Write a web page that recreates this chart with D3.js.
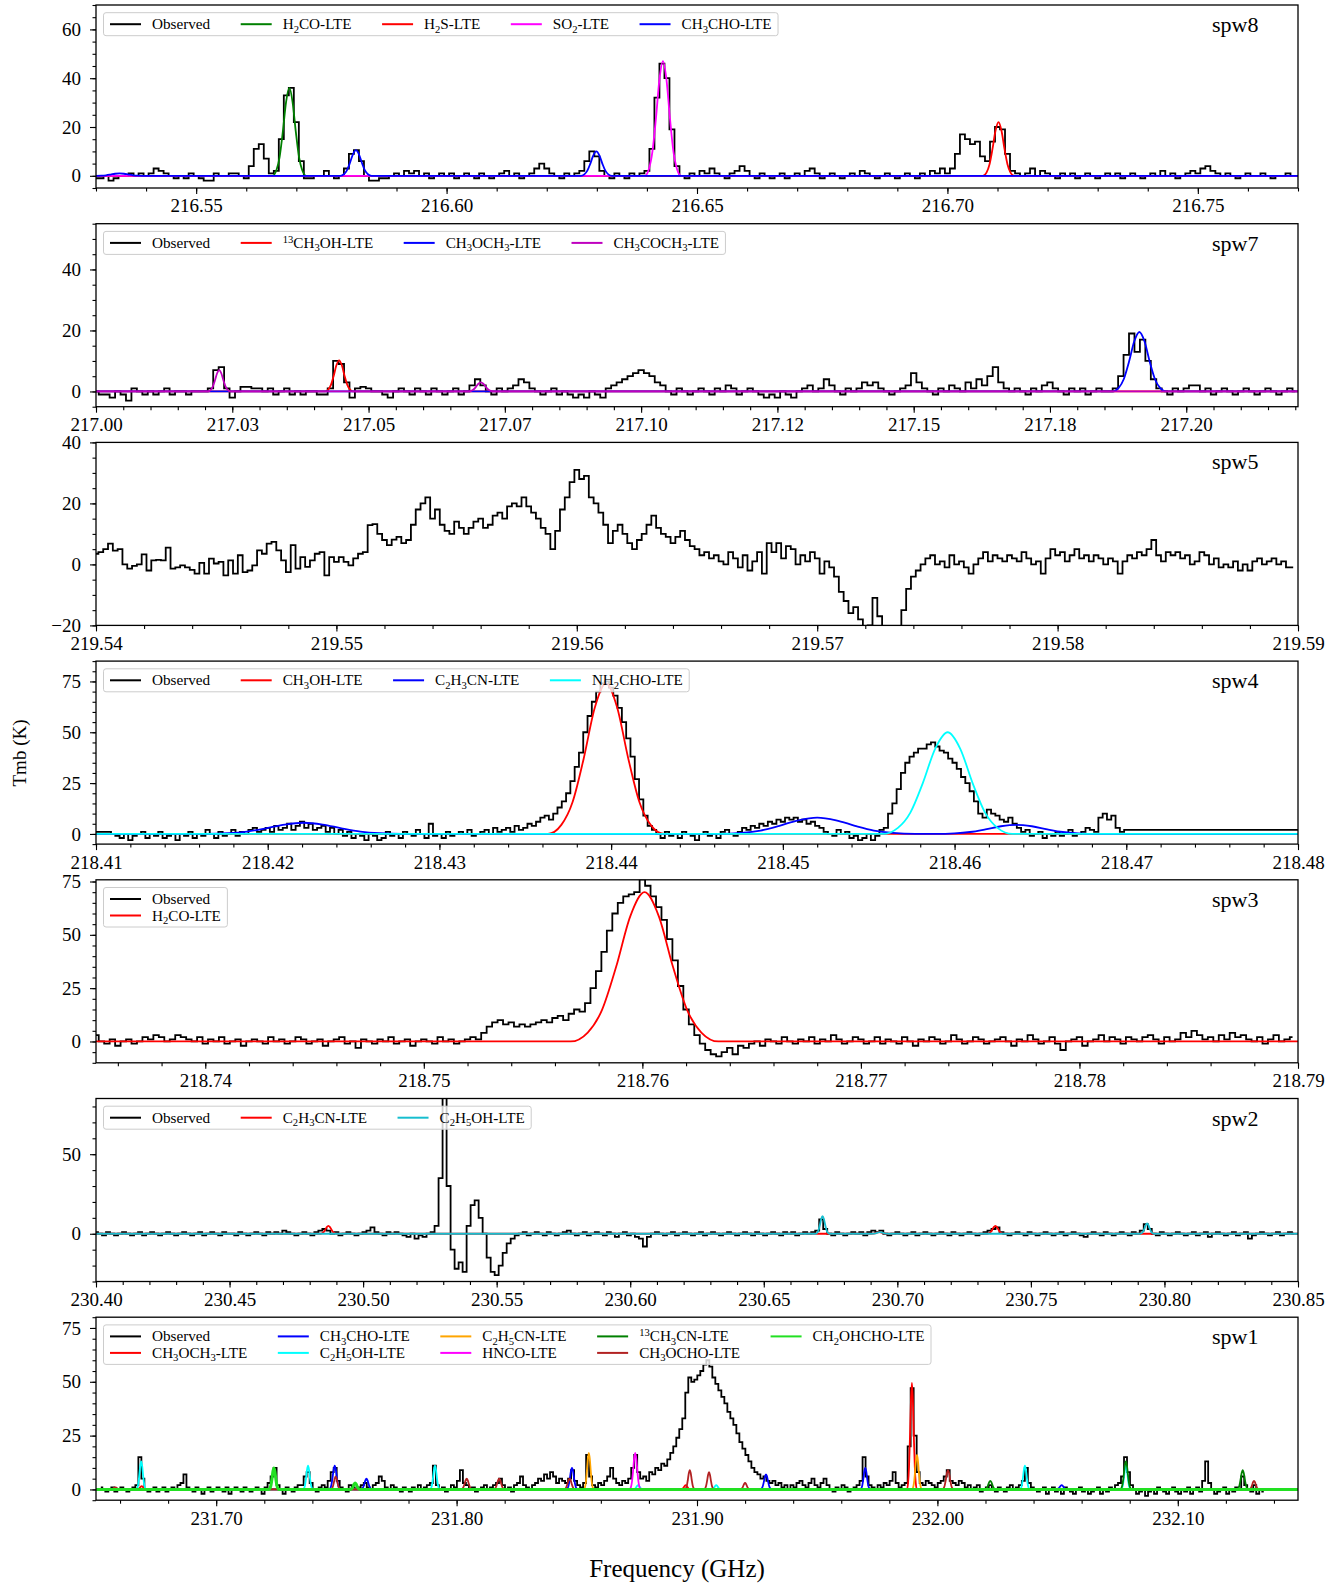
<!DOCTYPE html>
<html><head><meta charset="utf-8">
<script src="https://cdn.jsdelivr.net/npm/d3@7"></script>
<style>
body{margin:0;background:#fff}
svg text{font-family:"Liberation Serif","Times New Roman",serif;fill:#000}
</style></head>
<body><svg id="c" width="1336" height="1585"></svg>
<script>
// ===================== DATA =====================
// Observed spectra: start frequency (GHz), channel width (GHz), Tmb values (K)
const spw8Obs = {f0:216.53, df:0.001, T:[
-1,-1,0,-2,-1,0,0,1,0,1, 0,1,3,2,1,0,-1,0,-1,1, 0,-1,-2,-2,1,0,0,1,1,0,
-1,4,11,13,7,1,2,15,33,36, 22,6,-1,-1,0,0,2,0,-1,0, 3,9,10.5,6,0,-2,-2,-1,-1,0,
1,0,2,1,2,0,1,-1,0,1, 0,1,-1,0,1,0,-1,1,0,-1, 0,1,2,0,1,-1,0,1,3,5,
3,1,0,-1,1,0,1,2,6,10, 8,2,0,-1,1,0,-1,1,0,1, 2,11,32,46,40,19,4,0,-1,1,
0,2,1,3,1,0,-1,1,2,4, 2,0,-1,1,0,-1,0,1,-1,0, 1,0,2,3,1,-1,0,1,0,-1,
0,1,0,2,1,0,-1,0,1,0, -1,0,1,0,-1,1,0,2,1,3, 1,3,9,17,15,13,14,8,6,14,
20,19,9,2,1,0,1,3,0,2, 1,0,-1,1,0,1,-1,0,1,0, -1,0,1,0,1,-1,0,1,0,-1,
0,1,0,2,0,1,-1,0,1,2, 1,3,4,2,1,0,1,0,-1,0, 1,0,0,1,0,-1,0,0,1,0]};

const spw7Obs = {f0:217.0, df:0.001, T:[
0,-1,-1,-2,0,-1,-3,1,0,-1, 0,-1,0,1,-1,0,0,-1,0,0, 0,1,7,8,1,-2,0,1.5,1.5,1,
1,0,1,-1,0,1,-1,0,-1,0, 0,-1,-1,1,10,9,3,-2,1,1.5, 1,0,0,-1,-2,0,1,0,-1,1,
0,-1,1,0,-1,0,1,-1,0,2, 4,2,0,-1,1,0,1,2,4,3, 1,0,-1,0,1,-1,0,-1,-2,-1,
-2,0,-1,-2,1,2,3,4,5,6, 7,6,5,3,2,0,-1,1,0,-1, 0,1,0,-1,1,0,2,1,-1,0,
1,0,-1,-2,-1,-2,0,-1,-2,0, 1,2,0,1,4,2,0,-1,1,0, 1,3,2,3,1,0,-1,0,1,2,
6,3,1,0,-1,1,0,2,1,0, 3,1,4,2,5,8,3,1,0,1, 0,-1,1,0,2,3,1,0,-1,1,
0,1,-1,0,1,0,0,1,5,12, 19,13,17,10,4,1,0,-1,1,0, 1,2,2,0,1,-1,0,1,0,-1,
0,1,0,-1,0,1,0,-1,0,1,0]};

const spw5Obs = {f0:219.54, df:0.0002, T:[
3.5,4,5,6.8,4.5,5,0,-1.4,-0.5,0, 3.3,-2,1.3,1.5,1.3,5.5,-1.4,-1,-0.3,-1,
-1.8,-3,0.5,-3,1.9,0.3,0.8,-3.6,1.3,-3, 3,-2.5,-2,-0.3,4.6,3.5,6.8,7.4,4.6,1.3,
-2.5,6.3,-1.4,2.4,-0.8,1.3,3.5,4,-3.6,2.4, 0.8,2.4,0.8,-0.3,2,3.5,4,12.9,13.2,10,
8,6.3,8.1,9,7,8,13,18,20,22, 15,18,13,11,10,14,12,10,12,14,
15,12,13,16,17,15,19,20,19,22, 19,17,15,12,10,5,11,18,22,27,
31,28,29,22,20,17,13,7,11,13, 10,7,5,8,10,13,16,12,10,9,
7,9,11,8,6,5,3,4,2,3, 1,0,4,2,-1,3,-2,1,4,-3,
7,4,7,2,6,5,0,3,1,4, 2,-3,1,-1,-4,-9,-12,-16,-14,-18,
-22,-20,-11,-17,-23,-24,-23,-22,-15,-8, -4,-2,0,2,3,0,1,-1,3,0,
1,-1,-3,0,2,4,1,3,2,1, 3,2,1,4,2,0,1,-3,2,5,
3,4,1,3,5,2,3,1,3,2, 0,2,1,-3,1,3,2,4,3,5,
8,3,1,4,3,4,2,3,0,1, 4,3,0,2,-1,0,-1,1,-2,0,
-2,1,2,0,1,2,0,1,-1,-1]};

const spw4Obs = {f0:218.411, df:0.00025, T:[
0,-1,-2,0,-3,-1,0,1,-2,0, -1,1,-2,-1,0,-3,0,-1,1,-2, 0,-1,2,0,-2,1,-1,0,2,-1,
1,0,2,3,1,2,3,1,4,2, 3,5,2,4,6,3,5,2,3,4, 1,3,0,2,-1,1,-2,0,-1,-3,
0,-1,-3,-2,1,-1,0,-2,1,0, -1,2,0,-2,5,-1,0,-2,1,-1, 0,1,0,2,-1,0,1,2,0,3,
1,2,3,1,4,2,3,5,4,6, 8,9,7,10,13,16,20,26,33,40, 50,58,65,70,74,75,72,68,62,55,
47,38,27,17,9,4,2,0,-2,1, -1,0,-2,1,0,-1,-3,0,1,-1, 0,-2,1,2,0,-1,1,3,2,4,
3,5,4,6,5,7,6,8,7,8, 6,7,5,6,4,3,1,0,-1,2, 0,1,-2,-1,-3,-2,0,-3,-1,2,
3,10,15,22,30,35,38,40,42,42, 44,45,43,41,40,37,35,32,28,25, 21,16,10,8,12,10,9,7,6,8,
5,3,1,2,-1,0,1,-2,0,-1, 1,-1,0,2,-1,0,1,3,2,1, 8,10,7,9,3,1]};
// flat levels drawn by the observed trace outside the measured channels
const spw4ObsEdges = [1, 2];

const spw3Obs = {f0:218.735, df:0.00025, T:[
3,0,-1,1,-2,0,1,-1,0,2, 1,3,2,0,1,3,2,1,0,2, -1,1,0,2,-1,0,1,-2,0,1,
0,-1,2,0,1,-1,0,2,1,-1, 0,1,-2,0,1,2,-1,0,-3,1, 0,-1,1,0,2,-1,0,1,-2,0,
1,0,-1,2,0,1,-1,0,1,2, 1,4,7,9,10,8,9,7,8,7, 8,9,10,9,11,12,10,13,15,14,
18,25,33,42,52,60,65,68,69,70, 76,73,68,63,57,48,38,26,15,8, 3,-1,-4,-6,-7,-5,-3,-6,-2,-3,
-1,0,-2,1,0,-1,2,0,-1,1, 0,2,-1,1,0,3,1,-1,0,2, 1,-1,0,2,-1,1,0,-1,2,0,
-2,1,0,2,1,-1,0,3,1,-1, 0,2,1,-1,0,1,2,0,-2,1, 0,3,1,-1,0,2,-1,-4,0,1,
2,-2,0,1,3,0,2,1,-1,2, 1,0,2,3,1,-1,2,0,1,4, 2,5,3,1,2,0,3,1,4,2,
3,1,0,2,-1,1,3,0,1,2]};

const spw2Obs = {f0:230.40, df:0.0015, T:[
1,0,-1,1,0,-1,0,1,0,-1, 0,1,-1,0,1,0,-1,0,1,0, -1,0,1,0,-1,0,1,-1,0,1,
0,-1,1,0,0,-1,1,0,-1,0, 1,0,-1,1,0,1,0,2,1,0, -1,0,1,0,-1,1,2,3,2,0,
1,-1,0,1,0,-1,0,1,2,4, 1,0,-1,1,0,1,0,-1,-2,0, -3,-1,-2,0,1,5,35,90,30,-10,
-22,-18,-24,5,18,21,10,0,-15,-24, -26,-20,-12,-6,-3,-1,0,1,-1,0, 1,0,-1,1,0,-1,0,1,2,0,
-1,0,1,-1,0,1,0,-1,1,0, -2,0,1,-1,0,-2,-3,-8,-2,0, 1,0,-1,0,1,-1,0,1,0,-1,
0,1,-1,0,1,0,-1,0,1,0, -1,0,1,0,-1,1,0,-1,0,1, 0,-1,1,0,1,-1,0,1,0,1,
2,9,3,0,-1,1,0,-1,0,1, 0,1,-1,1,2,1,2,0,-1,0, 1,0,-1,0,1,-1,0,1,0,-1,
0,1,0,-1,1,0,-1,0,1,0, -1,0,1,2,3,4,1,0,-1,0, 1,0,-1,1,0,-1,0,1,0,-1,
0,1,-1,0,1,0,-1,-2,0,1, 0,-1,1,0,-1,0,1,0,-1,1, 0,2,6,3,0,-1,1,0,-1,0,
1,0,-1,0,1,-1,0,1,-2,0, 1,0,-1,0,1,-1,0,1,-3,-1, 0,1,0,-1,0,1,-1,0,1,0]};

const spw1Obs = {f0:231.652, df:0.00125, T:[
1,0,-1,0,1,-1,0,1,0,-1, 0,1,2,15,5,0,-1,0,1,-1, 0,1,-1,0,1,0,2,3,7,1,
0,-1,1,0,-2,0,1,-1,0,1, 0,-1,1,-2,0,1,0,-1,1,0, -1,0,1,0,-2,1,3,6,10,2,
0,-2,1,0,-1,1,2,2,6,8, 3,0,-1,1,2,1,4,8,10,4, 1,0,-1,2,1,0,1,2,3,1,
0,2,3,6,4,1,0,2,1,0, -1,1,0,-1,1,0,2,0,1,2, 3,11,2,0,1,-1,0,2,1,4,
9,3,2,0,1,-1,0,1,2,0, 1,2,3,5,2,0,1,-1,2,3, 6,2,1,0,2,3,5,4,7,5,
8,6,3,5,4,3,5,9,4,2, 1,3,16,6,2,1,3,2,4,6, 10,5,3,2,4,3,5,10,16,8,
5,6,4,8,7,10,9,12,11,14, 17,20,24,28,33,45,52,50,51,53, 55,58,60,57,52,49,46,43,40,36,
33,30,26,22,19,16,13,10,8,7, 5,6,4,3,4,2,3,1,2,0, 2,1,3,4,2,1,3,5,2,1,
3,5,2,0,-1,1,0,2,1,-1, 0,1,2,4,15,6,2,1,0,2, 1,3,2,4,8,3,1,2,3,20,
47,25,8,3,2,4,3,2,1,3, 4,6,9,4,3,2,4,3,1,2, 0,1,2,-1,0,1,2,0,-1,1,
0,-1,1,2,0,1,2,4,10,3, 1,0,-1,0,1,-2,0,1,-1,0, -2,1,0,-1,-2,0,1,-1,0,-2,
-1,0,1,-2,0,-1,1,0,2,3, 6,15,8,2,0,-2,-1,0,-3,-1, 0,-2,1,0,-1,-2,0,1,-1,-2,
0,-1,1,-2,0,1,-1,4,13,3, 0,-2,-1,0,1,-2,0,-1,1,0, 6,2,0,-1,2,-2,0,-1]};

// LTE model lines: [centre GHz, peak Tmb K, half-width at half max GHz]
const spw8H2CO   = [[216.5686,36,0.0013]];
const spw8H2S    = [[216.7102,22,0.0012]];
const spw8SO2    = [[216.6432,47,0.0014]];
const spw8CH3CHO = [[216.5347,1,0.0018],[216.5819,10.5,0.0012],[216.6299,10,0.0012]];

const spw7C13H3OH  = [[217.0446,10.2,0.001]];
const spw7CH3OCH3  = [[217.1914,19.5,0.0019]];
const spw7CH3COCH3 = [[217.0226,7,0.0008],[217.0706,3,0.0009]];

const spw4CH3OH  = [[218.4397,74,0.0013]];
const spw4C2H3CN = [[218.4221,5.5,0.0022],[218.452,8,0.0022],[218.4636,4.5,0.0018]];
const spw4NH2CHO = [[218.4596,50,0.00145]];

const spw3H2CO = [[218.7601,70,0.0013]];

const spw2C2H3CN = [[230.487,5,0.0012],[230.6932,1,0.0012],[230.7367,5,0.0012]];
const spw2C2H5OH = [[230.672,11,0.001],[230.6935,1,0.0012],[230.7935,6.5,0.001]];

const spw1CH3OCH3  = [[231.669,1.5,0.0008],[231.8953,2,0.0008],[231.9894,49.5,0.0008]];
const spw1CH3CHO   = [[231.7493,11,0.0009],[231.7625,5,0.0009],[231.848,10,0.0009],[231.9287,7,0.0009],[231.97,10,0.0008],[232.0517,2,0.0009]];
const spw1C2H5CN   = [[231.855,17,0.0008],[231.9915,16,0.0008]];
const spw1C13H3CN  = [[232.022,4,0.0009],[232.0784,13,0.0009],[232.127,9,0.0009]];
const spw1CH2OHCHO = [[231.724,10,0.0008],[231.7578,3,0.0008]];
const spw1C2H5OH   = [[231.6688,13,0.0008],[231.7382,11,0.0008],[231.791,11,0.0008],[231.8755,2,0.0008],[231.908,2,0.0008],[232.0364,11,0.0008],[232.0784,11,0.0008]];
const spw1HNCO     = [[231.8743,17,0.0009]];
const spw1CH3OCHO  = [[231.658,1,0.0008],[231.7497,6,0.0008],[231.8042,5,0.0009],[231.8177,5,0.0009],[231.847,5,0.0009],[231.897,9,0.0008],[231.905,8,0.0008],[231.92,3,0.0008],[232.0044,9,0.0009],[232.1317,4,0.0008]];

// Line-profile template (offset in half-widths, fraction of peak)
const bellShape = [[-2.6,0],[-2,0.06],[-1.5,0.21],[-1,0.5],[-0.5,0.84],[0,1],[0.5,0.84],[1,0.5],[1.5,0.21],[2,0.06],[2.6,0]];

// Tick values and labels
const spw8XTicks = [216.55,216.60,216.65,216.70,216.75];
const spw8XLabels = ["216.55","216.60","216.65","216.70","216.75"];
const spw7XTicks = [217.0,217.025,217.05,217.075,217.1,217.125,217.15,217.175,217.2];
const spw7XLabels = ["217.00","217.03","217.05","217.07","217.10","217.12","217.15","217.18","217.20"];
const spw5XTicks = [219.54,219.55,219.56,219.57,219.58,219.59];
const spw5XLabels = ["219.54","219.55","219.56","219.57","219.58","219.59"];
const spw4XTicks = [218.41,218.42,218.43,218.44,218.45,218.46,218.47,218.48];
const spw4XLabels = ["218.41","218.42","218.43","218.44","218.45","218.46","218.47","218.48"];
const spw3XTicks = [218.74,218.75,218.76,218.77,218.78,218.79];
const spw3XLabels = ["218.74","218.75","218.76","218.77","218.78","218.79"];
const spw2XTicks = [230.40,230.45,230.50,230.55,230.60,230.65,230.70,230.75,230.80,230.85];
const spw2XLabels = ["230.40","230.45","230.50","230.55","230.60","230.65","230.70","230.75","230.80","230.85"];
const spw1XTicks = [231.7,231.8,231.9,232.0,232.1];
const spw1XLabels = ["231.70","231.80","231.90","232.00","232.10"];

const spw8YTicks=[0,20,40,60], spw7YTicks=[0,20,40], spw5YTicks=[-20,0,20,40],
      spw4YTicks=[0,25,50,75], spw3YTicks=[0,25,50,75], spw2YTicks=[0,50], spw1YTicks=[0,25,50,75];

// ===================== PANELS =====================
const panels = [
 {name:"spw8", xDom:[216.53,216.77], yDom:[-5,70], xT:spw8XTicks, xL:spw8XLabels, xMinor:0.01, yT:spw8YTicks, yMinor:5,
  obs:spw8Obs, ncol:5, models:[
   {label:"H_{2}CO-LTE", color:"#008000", peaks:spw8H2CO},
   {label:"H_{2}S-LTE", color:"#ff0000", peaks:spw8H2S},
   {label:"SO_{2}-LTE", color:"#ff00ff", peaks:spw8SO2},
   {label:"CH_{3}CHO-LTE", color:"#0000ff", peaks:spw8CH3CHO}]},
 {name:"spw7", xDom:[217.0,217.2205], yDom:[-5,55], xT:spw7XTicks, xL:spw7XLabels, xMinor:0.005, yT:spw7YTicks, yMinor:5,
  obs:spw7Obs, ncol:4, models:[
   {label:"^{13}CH_{3}OH-LTE", color:"#ff0000", peaks:spw7C13H3OH},
   {label:"CH_{3}OCH_{3}-LTE", color:"#0000ff", peaks:spw7CH3OCH3},
   {label:"CH_{3}COCH_{3}-LTE", color:"#bf00bf", peaks:spw7CH3COCH3}]},
 {name:"spw5", xDom:[219.54,219.59], yDom:[-20,40], xT:spw5XTicks, xL:spw5XLabels, xMinor:0.002, yT:spw5YTicks, yMinor:5,
  obs:spw5Obs, ncol:0, models:[]},
 {name:"spw4", xDom:[218.41,218.48], yDom:[-5,85], xT:spw4XTicks, xL:spw4XLabels, xMinor:0.002, yT:spw4YTicks, yMinor:5,
  obs:spw4Obs, edges:spw4ObsEdges, ncol:4, models:[
   {label:"CH_{3}OH-LTE", color:"#ff0000", peaks:spw4CH3OH},
   {label:"C_{2}H_{3}CN-LTE", color:"#0000ff", peaks:spw4C2H3CN},
   {label:"NH_{2}CHO-LTE", color:"#00ffff", peaks:spw4NH2CHO}]},
 {name:"spw3", xDom:[218.735,218.79], yDom:[-10,75.8], xT:spw3XTicks, xL:spw3XLabels, xMinor:0.002, yT:spw3YTicks, yMinor:5,
  obs:spw3Obs, ncol:1, models:[
   {label:"H_{2}CO-LTE", color:"#ff0000", peaks:spw3H2CO}]},
 {name:"spw2", xDom:[230.40,230.85], yDom:[-30,85], xT:spw2XTicks, xL:spw2XLabels, xMinor:0.01, yT:spw2YTicks, yMinor:10,
  obs:spw2Obs, ncol:3, models:[
   {label:"C_{2}H_{3}CN-LTE", color:"#ff0000", peaks:spw2C2H3CN},
   {label:"C_{2}H_{5}OH-LTE", color:"#17becf", peaks:spw2C2H5OH}]},
 {name:"spw1", xDom:[231.65,232.15], yDom:[-5,80], xT:spw1XTicks, xL:spw1XLabels, xMinor:0.02, yT:spw1YTicks, yMinor:5,
  obs:spw1Obs, ncol:5, models:[
   {label:"CH_{3}OCH_{3}-LTE", color:"#ff0000", peaks:spw1CH3OCH3},
   {label:"CH_{3}CHO-LTE", color:"#0000ff", peaks:spw1CH3CHO},
   {label:"C_{2}H_{5}OH-LTE", color:"#00ffff", peaks:spw1C2H5OH},
   {label:"C_{2}H_{5}CN-LTE", color:"#ffa500", peaks:spw1C2H5CN},
   {label:"HNCO-LTE", color:"#ff00ff", peaks:spw1HNCO},
   {label:"^{13}CH_{3}CN-LTE", color:"#008000", peaks:spw1C13H3CN},
   {label:"CH_{3}OCHO-LTE", color:"#b22222", peaks:spw1CH3OCHO},
   {label:"CH_{2}OHCHO-LTE", color:"#22e022", peaks:spw1CH2OHCHO, width:3}]}
];

// ===================== DRAW =====================
const svg = d3.select("#c");
const L = 96, R = 1298, PH = 183, STEP = 218.7, TOP0 = 5;

function richText(sel, label){
  const parts = label.split(/(_\{[^}]*\}|\^\{[^}]*\})/).filter(s=>s.length);
  let shift = 0;
  parts.forEach(s=>{
    let target = 0, txt = s, small = false;
    if (s.startsWith("_{")) { target = 3.5; txt = s.slice(2,-1); small = true; }
    else if (s.startsWith("^{")) { target = -5; txt = s.slice(2,-1); small = true; }
    const t = sel.append("tspan").attr("dy", target - shift).text(txt);
    if (small) t.attr("font-size", "70%");
    shift = target;
  });
}

panels.forEach((p, k) => {
  const top = TOP0 + STEP*k, bot = top + PH;
  const x = d3.scaleLinear().domain(p.xDom).range([L, R]);
  const y = d3.scaleLinear().domain(p.yDom).range([bot, top]);
  const g = svg.append("g");
  const cid = "clip" + k;
  svg.append("clipPath").attr("id", cid).append("rect")
     .attr("x", L).attr("y", top).attr("width", R-L).attr("height", PH);
  const plot = g.append("g").attr("clip-path", `url(#${cid})`);
  const stepLine = d3.line().x(d=>x(d[0])).y(d=>y(d[1])).curve(d3.curveStep);
  const smooth = d3.line().x(d=>x(d[0])).y(d=>y(d[1])).curve(d3.curveMonotoneX);

  let obsPts = p.obs.T.map((v,i)=>[p.obs.f0 + i*p.obs.df, v]);
  if (p.edges) {
    const fEnd = p.obs.f0 + (p.obs.T.length-1)*p.obs.df;
    obsPts = [[p.xDom[0]-0.001, p.edges[0]], [p.obs.f0 - p.obs.df, p.edges[0]]]
      .concat(obsPts, [[fEnd + p.obs.df, p.edges[1]], [p.xDom[1]+0.001, p.edges[1]]]);
  }
  plot.append("path").datum(obsPts).attr("d", stepLine)
      .attr("fill","none").attr("stroke","#000").attr("stroke-width",1.8).attr("stroke-linejoin","miter");

  p.models.forEach(m=>{
    const pts = [[p.xDom[0]-0.01, 0]];
    m.peaks.slice().sort((a,b)=>a[0]-b[0]).forEach(([c,h,w])=>{
      bellShape.forEach(([o,f])=>pts.push([c+o*w, h*f]));
    });
    pts.push([p.xDom[1]+0.01, 0]);
    plot.append("path").datum(pts).attr("d", smooth)
        .attr("fill","none").attr("stroke",m.color).attr("stroke-width",m.width||1.8);
  });

  // axes
  const fmtY = d => d < 0 ? "\u2212" + Math.abs(d) : String(d);
  const xMinorVals = d3.range(Math.ceil(p.xDom[0]/p.xMinor - 1e-6), Math.floor(p.xDom[1]/p.xMinor + 1e-6) + 1).map(n=>n*p.xMinor);
  const yMinorVals = d3.range(Math.ceil(p.yDom[0]/p.yMinor), Math.floor(p.yDom[1]/p.yMinor) + 1).map(n=>n*p.yMinor);
  const ax = g.append("g").attr("transform",`translate(0,${bot})`);
  ax.append("g").call(d3.axisBottom(x).tickValues(xMinorVals).tickSize(3.5).tickFormat(""));
  ax.append("g").call(d3.axisBottom(x).tickValues(p.xT).tickSize(6).tickPadding(5).tickFormat((d,i)=>p.xL[i]));
  const ay = g.append("g").attr("transform",`translate(${L},0)`);
  ay.append("g").call(d3.axisLeft(y).tickValues(yMinorVals).tickSize(3.5).tickFormat(""));
  ay.append("g").call(d3.axisLeft(y).tickValues(p.yT).tickSize(6).tickPadding(9).tickFormat(fmtY));
  g.selectAll(".domain").remove();
  g.selectAll(".tick line").attr("stroke","#000").attr("stroke-width",1.1);
  g.selectAll(".tick text").attr("font-size",19).attr("font-family",'"Liberation Serif",serif');

  g.append("rect").attr("x",L).attr("y",top).attr("width",R-L).attr("height",PH)
   .attr("fill","none").attr("stroke","#000").attr("stroke-width",1.3);

  g.append("text").attr("x",1258.5).attr("y",top+27).attr("text-anchor","end")
   .attr("font-size",22).text(p.name);

  // legend
  if (p.ncol > 0) {
    const entries = [{label:"Observed", color:"#000"}].concat(p.models);
    const fs=15.2, hl=31, htp=11, cs=30.5, bp=6.5, rowH=16.5;
    const nrow = Math.ceil(entries.length/p.ncol);
    const lg = g.append("g");
    const box = lg.append("rect");
    const x0 = L + 7.5, y0 = top + 7.7;
    let cx = x0 + bp;
    for (let c=0; c<p.ncol; c++){
      const items = entries.slice(c*nrow, (c+1)*nrow);
      let maxW = 0;
      items.forEach((e,r)=>{
        const cy = y0 + 11.5 + r*rowH;
        lg.append("line").attr("x1",cx).attr("x2",cx+hl).attr("y1",cy).attr("y2",cy)
          .attr("stroke",e.color).attr("stroke-width",2);
        const t = lg.append("text").attr("x",cx+hl+htp).attr("y",cy+5).attr("font-size",fs);
        richText(t, e.label);
        maxW = Math.max(maxW, t.node().getComputedTextLength());
      });
      cx += hl + htp + maxW + (c < p.ncol-1 ? cs : 0);
    }
    const bw = cx + bp - x0, bh = 6.5 + nrow*rowH;
    box.attr("x",x0).attr("y",y0).attr("width",bw).attr("height",bh).attr("rx",2.5)
       .attr("fill","#fff").attr("fill-opacity",0.8).attr("stroke","#cccccc").attr("stroke-width",1);
  }
});

svg.append("text").attr("x",677).attr("y",1577).attr("text-anchor","middle").attr("font-size",25).text("Frequency (GHz)");
svg.append("text").attr("transform","translate(26,753) rotate(-90)").attr("text-anchor","middle").attr("font-size",19).text("Tmb (K)");
</script>
</body></html>
